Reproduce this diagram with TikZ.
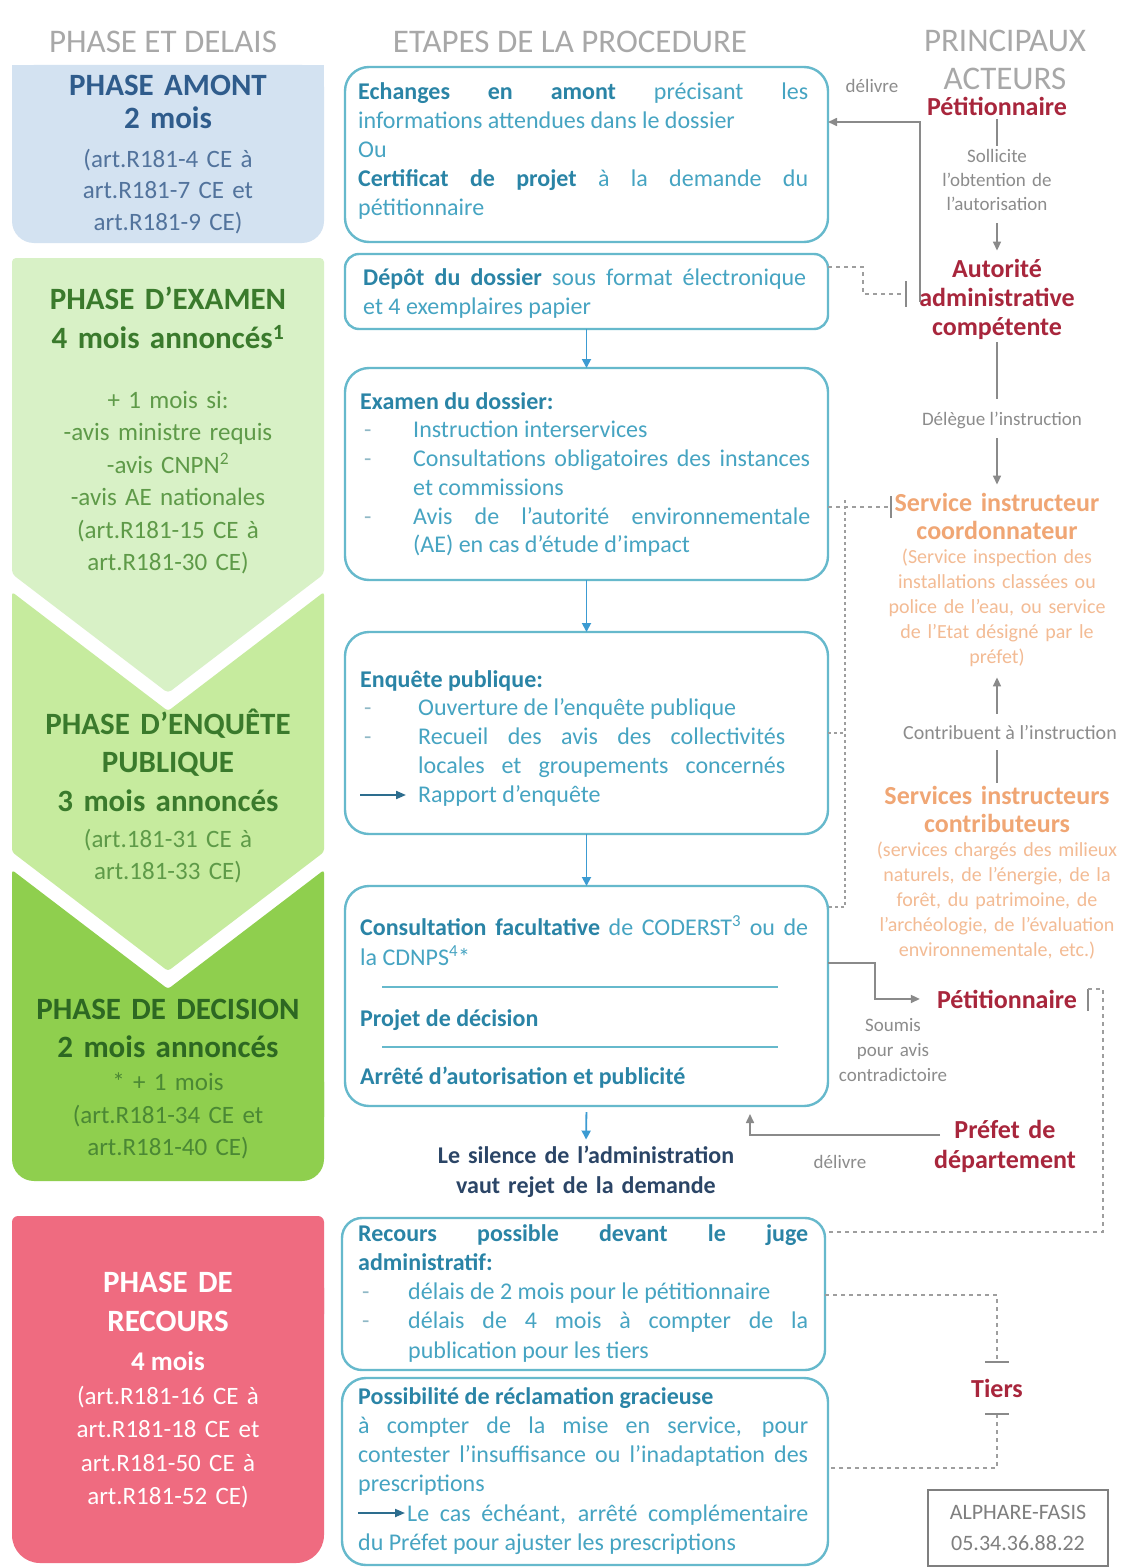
\documentclass[tikz,border=0pt]{standalone}
\usepackage{fontspec}
\setmainfont{Carlito}
\usetikzlibrary{arrows.meta,calc}
\definecolor{hdr}{HTML}{A8A8A8}
\definecolor{amfill}{HTML}{D3E2F1}
\definecolor{amtitle}{HTML}{2F5C8C}
\definecolor{amsub}{HTML}{52739C}
\definecolor{exfill}{HTML}{D8F1C6}
\definecolor{enfill}{HTML}{C6EB9E}
\definecolor{defill}{HTML}{8FCF4E}
\definecolor{refill}{HTML}{EF6B80}
\definecolor{gtitle}{HTML}{3A7A2C}
\definecolor{gsub}{HTML}{5E9A48}
\definecolor{dtitle}{HTML}{2D6822}
\definecolor{dsub}{HTML}{4B8834}
\definecolor{boxline}{HTML}{66B9CC}
\definecolor{boxbold}{HTML}{2A84A6}
\definecolor{boxtext}{HTML}{46A4C2}
\definecolor{boxdash}{HTML}{8FB8C6}
\definecolor{barrowc}{HTML}{3C9BD2}
\definecolor{inarrowc}{HTML}{2D6D8E}
\definecolor{silc}{HTML}{2B4566}
\definecolor{redc}{HTML}{A8263C}
\definecolor{gtext}{HTML}{8C8C8C}
\definecolor{glinec}{HTML}{8A8A8A}
\definecolor{dashc}{HTML}{9E9E9E}
\definecolor{orb}{HTML}{F0A674}
\definecolor{ors}{HTML}{F3BB94}
\definecolor{alphc}{HTML}{7F7F7F}
\newcommand\Bx[1]{{\bfseries\color{boxbold}#1}}
\newcommand\Sk{\spaceskip=0pt\relax\xspaceskip=0pt\relax}
\newcommand\Jl[1]{\noindent\hbox to\hsize{\Sk#1}\par}
\newcommand\Nl[1]{\noindent\hbox{\Sk#1}\par}
\newcommand\Dsh[1]{\hbox to #1{\hspace{4pt}{\color{boxdash}-}\hfil}}
\newcommand\Il[2]{\noindent\hbox{\Sk\Dsh{#1}#2}\par}
\newcommand\IJl[2]{\noindent\hbox to\hsize{\Sk\Dsh{#1}#2}\par}
\begin{document}
\begin{tikzpicture}[x=1pt,y=-1pt,
  stepbox/.style={draw=boxline,line width=2.4pt,rounded corners=24pt,inner sep=0pt,outer sep=0pt,anchor=north west},
  boxtxt/.style={anchor=base west,inner sep=0pt,text width=#1,align=left,text=boxtext,font=\fontsize{24}{29}\selectfont},
  boxtxt/.default=450pt,
  phtitle/.style={anchor=base,inner sep=0pt,text width=300pt,align=center,font=\bfseries\fontsize{31}{#1}\selectfont},
  phsub/.style={anchor=base,inner sep=0pt,text width=300pt,align=center,font=\fontsize{25}{#1}\selectfont},
  hdrtxt/.style={anchor=base,inner sep=0pt,text=hdr,font=\fontsize{33}{38}\selectfont},
  rbold/.style={anchor=base,inner sep=3pt,text=redc,font=\bfseries\fontsize{26}{29}\selectfont},
  gsmall/.style={anchor=base,inner sep=3pt,text=gtext,font=\fontsize{19}{24}\selectfont},
  orbold/.style={anchor=base,inner sep=3pt,text=orb,font=\bfseries\fontsize{26}{28}\selectfont},
  orsub/.style={anchor=base,inner sep=3pt,text=ors,font=\fontsize{20}{25}\selectfont},
  garrow/.style={draw=glinec,line width=1.6pt,-{Triangle[length=9pt,width=8pt]}},
  gline/.style={draw=glinec,line width=1.6pt},
  dline/.style={draw=dashc,line width=1.3pt,dash pattern=on 4pt off 4pt},
  barrow/.style={draw=barrowc,line width=1.8pt,-{Triangle[length=9pt,width=9pt]}},
  inarrow/.style={draw=inarrowc,line width=2pt,-{Triangle[length=10pt,width=8pt]}},
  sepline/.style={draw=boxline,line width=1.5pt}
]
\fill[white] (0,0) rectangle (1128,1568);
\useasboundingbox (0,0) rectangle (1128,1568);

% ---------- left column shapes ----------
\fill[amfill] (12,65) rectangle (324,150);
\fill[amfill,rounded corners=22pt] (12,65) rectangle (324,243);
\fill[exfill,rounded corners=4pt] (12,258) -- (324,258) -- (324,574) -- (168,693) -- (12,574) -- cycle;
\fill[enfill,rounded corners=3pt] (12,592) -- (168,711) -- (324,592) -- (324,852) -- (168,971) -- (12,852) -- cycle;
\fill[defill,rounded corners=3pt] (12,870) -- (168,989) -- (324,870) -- (324,1120) -- (12,1120) -- cycle;
\fill[defill,rounded corners=22pt] (12,1060) rectangle (324,1181);
\fill[refill,rounded corners=6pt] (12,1216) rectangle (324,1320);
\fill[refill,rounded corners=28pt] (12,1260) rectangle (324,1563);

% ---------- headers ----------
\node[hdrtxt] (h1) at (163,53) {PHASE ET DELAIS};
\node[hdrtxt] (h2) at (570,53) {ETAPES DE LA PROCEDURE};
\node[hdrtxt,text width=220pt,align=center] (h3) at (1005,52) {PRINCIPAUX\\ACTEURS};

% ---------- left column texts ----------
\node[phtitle=33,text=amtitle] (amT) at (168,95.3) {PHASE AMONT\\2 mois};
\node[phsub=31.5,text=amsub] (amS) at (168,167.5) {(art.R181-4 CE à\\art.R181-7 CE et\\art.R181-9 CE)};
\node[phtitle=39,text=gtitle] (exT) at (168,309.3) {PHASE D’EXAMEN\\4 mois annoncés\textsuperscript{1}};
\node[phsub=32.4,text=gsub] (exS) at (168,408.5) {+ 1 mois si:\\-avis ministre requis\\-avis CNPN\textsuperscript{2}\\-avis AE nationales\\(art.R181-15 CE à\\art.R181-30 CE)};
\node[phtitle=38.5,text=gtitle] (enT) at (168,734.3) {PHASE D’ENQUÊTE\\PUBLIQUE\\3 mois annoncés};
\node[phsub=32,text=gsub] (enS) at (168,847.5) {(art.181-31 CE à\\art.181-33 CE)};
\node[phtitle=38,text=dtitle] (deT) at (168,1019.3) {PHASE DE DECISION\\2 mois annoncés};
\node[phsub=32.5,text=dsub] (deS) at (168,1090.5) {* + 1 mois\\(art.R181-34 CE et\\art.R181-40 CE)};
\node[phtitle=39.5,text=white] (reT) at (168,1292.3) {PHASE DE\\RECOURS};
\node[anchor=base,inner sep=0pt,text=white,font=\bfseries\fontsize{27}{30}\selectfont] (reM) at (168,1370) {4 mois};
\node[phsub=33.3,text=white] (reS) at (168,1404.5) {(art.R181-16 CE à\\art.R181-18 CE et\\art.R181-50 CE à\\art.R181-52 CE)};

% ---------- procedure boxes ----------
\node[stepbox,minimum width=483pt,minimum height=175pt] (b1) at (345,67) {};
\node[stepbox,rounded corners=14pt,minimum width=483pt,minimum height=75pt] (b2) at (345,254) {};
\node[stepbox,minimum width=483pt,minimum height=212pt] (b3) at (345,368) {};
\node[stepbox,minimum width=483pt,minimum height=202pt] (b4) at (345,632) {};
\node[stepbox,minimum width=483pt,minimum height=220pt] (b5) at (345,886) {};
\node[stepbox,rounded corners=20pt,minimum width=483pt,minimum height=152pt] (b7) at (342,1218) {};
\node[stepbox,minimum width=486pt,minimum height=187pt] (b8) at (342,1378) {};

\node[boxtxt=450pt] (t1) at (358,99.2) {%
\Jl{\Bx{Echanges en amont} précisant les}%
\Nl{informations attendues dans le dossier}%
\Nl{Ou}%
\Jl{\Bx{Certificat de projet} à la demande du}%
\Nl{pétitionnaire}};
\node[boxtxt=443pt] (t2) at (363,285.2) {%
\Jl{\Bx{Dépôt du dossier} sous format électronique}%
\Nl{et 4 exemplaires papier}};
\node[boxtxt=450pt,font=\fontsize{24}{28.7}\selectfont] (t3) at (360,409.2) {%
\Nl{\Bx{Examen du dossier:}}%
\Il{53pt}{Instruction interservices}%
\IJl{53pt}{Consultations obligatoires des instances}%
\Nl{\hspace{53pt}et commissions}%
\IJl{53pt}{Avis de l’autorité environnementale}%
\Nl{\hspace{53pt}(AE) en cas d’étude d’impact}};
\node[boxtxt=425pt,font=\fontsize{24}{28.7}\selectfont] (t4) at (360,687.2) {%
\Nl{\Bx{Enquête publique:}}%
\Il{58pt}{Ouverture de l’enquête publique}%
\IJl{58pt}{Recueil des avis des collectivités}%
\Jl{\hspace{58pt}locales et groupements concernés}%
\Nl{\hspace{58pt}Rapport d’enquête}};
\node[boxtxt=448pt,font=\fontsize{24}{30}\selectfont] (t5a) at (360,935.2) {%
\Jl{\Bx{Consultation facultative} de CODERST\textsuperscript{3} ou de}%
\Nl{la CDNPS\textsuperscript{4}*}};
\node[boxtxt=448pt] (t5b) at (360,1026.2) {\Nl{\Bx{Projet de décision}}};
\node[boxtxt=448pt] (t5c) at (360,1084.2) {\Nl{\Bx{Arrêté d’autorisation et publicité}}};
\node[anchor=base,inner sep=0pt,text width=420pt,align=center,text=silc,font=\bfseries\fontsize{24}{30}\selectfont] (sil) at (586,1163.2) {Le silence de l’administration\\vaut rejet de la demande};
\node[boxtxt=450pt,font=\fontsize{24}{29.2}\selectfont] (t7) at (358,1241.2) {%
\Jl{\Bx{Recours possible devant le juge}}%
\Nl{\Bx{administratif:}}%
\Il{50pt}{délais de 2 mois pour le pétitionnaire}%
\IJl{50pt}{délais de 4 mois à compter de la}%
\Nl{\hspace{50pt}publication pour les tiers}};
\node[boxtxt=450pt,font=\fontsize{24}{29.2}\selectfont] (t8) at (358,1404.2) {%
\Nl{\Bx{Possibilité de réclamation gracieuse}}%
\Jl{à compter de la mise en service, pour}%
\Jl{contester l’insuffisance ou l’inadaptation des}%
\Nl{prescriptions}%
\Jl{\hspace{49pt}Le cas échéant, arrêté complémentaire}%
\Nl{du Préfet pour ajuster les prescriptions}};

\draw[sepline] (382,987) -- (778,987);
\draw[sepline] (382,1047) -- (778,1047);
\coordinate (ra1) at (360,795); \coordinate (ra2) at (406,795);
\draw[inarrow] (ra1) -- (ra2);
\coordinate (rb1) at (358,1513); \coordinate (rb2) at (405,1513);
\draw[inarrow] (rb1) -- (rb2);

% ---------- actors ----------
\node[rbold] (pet1) at (997,116) {Pétitionnaire};
\node[gsmall,text width=170pt,align=center] (sol) at (997,162.7) {Sollicite\\l’obtention de\\l’autorisation};
\node[rbold,text width=200pt,align=center] (aut) at (997,277) {Autorité\\administrative\\compétente};
\node[gsmall] (dele) at (1002,425.7) {Délègue l’instruction};
\node[orbold,text width=240pt,align=center] (serv) at (997,511) {Service instructeur\\coordonnateur};
\node[orsub,text width=250pt,align=center] (servsub) at (997,563) {(Service inspection des\\installations classées ou\\police de l’eau, ou service\\de l’Etat désigné par le\\préfet)};
\node[gsmall,font=\fontsize{20}{24}\selectfont] (contrib) at (1010,739) {Contribuent à l’instruction};
\node[orbold,text width=250pt,align=center] (servs2) at (997,804) {Services instructeurs\\contributeurs};
\node[orsub,text width=260pt,align=center] (servs2sub) at (997,856) {(services chargés des milieux\\naturels, de l’énergie, de la\\forêt, du patrimoine, de\\l’archéologie, de l’évaluation\\environnementale, etc.)};
\node[rbold] (pet2) at (1007,1008) {Pétitionnaire};
\node[gsmall,text width=140pt,align=center,font=\fontsize{19}{25}\selectfont] (soum) at (893,1031) {Soumis\\pour avis\\contradictoire};
\node[rbold,text width=200pt,align=center,font=\bfseries\fontsize{26}{30}\selectfont] (pref) at (1005,1138) {Préfet de\\département};
\node[gsmall] (dlv2) at (840,1168) {délivre};
\node[gsmall] (dlv1) at (872,93) {délivre};
\node[rbold] (tiers) at (997,1397) {Tiers};
\node[draw=alphc,line width=1.3pt,text=alphc,minimum width=180pt,minimum height=76pt,inner sep=0pt,align=center,font=\fontsize{22}{31}\selectfont] (alph) at (1018,1528) {ALPHARE-FASIS\\05.34.36.88.22};

% ---------- blue flow arrows ----------
\draw[barrow] (b2.south) -- (b3.north);
\draw[barrow] (b3.south) -- (b4.north);
\draw[barrow] (b4.south) -- (b5.north);
\draw[barrow,shorten <=6pt,shorten >=6pt] (b5.south) -- (sil.north);

% ---------- grey connectors ----------
\coordinate (dlA) at (920,302);
\draw[garrow] (dlA) |- (b1.east |- 0,122);
\draw[gline] (pet1.south) -- (sol.north);
\draw[garrow,shorten <=9pt,shorten >=5pt] (sol.south) -- (aut.north);
\draw[gline,shorten >=10pt] (aut.south) -- (aut.south |- dele.north);
\draw[garrow,shorten <=6pt,shorten >=5pt] (aut.south |- dele.south) -- (serv.north);
\draw[garrow,shorten <=8pt,shorten >=8pt] (servsub.south |- contrib.north) -- (servsub.south);
\draw[gline,shorten <=8pt] (servs2.north |- contrib.south) -- (servs2.north);
\coordinate (k1) at (875,963);
\draw[garrow,shorten >=14pt] (b5.east |- k1) -- (k1) |- (pet2.west);
\coordinate (pfA) at (940,1135); \coordinate (pfB) at (750,1135);
\draw[garrow,shorten >=8pt] (pfA) -- (pfB) -- (pfB |- b5.south);

% ---------- dashed links ----------
\coordinate (dpK) at (863,294); \coordinate (tkA) at (906,294);
\draw[dline] (b2.east |- 0,267) -| (dpK) -- (tkA);
\draw[gline] ([yshift=13pt]tkA) -- ([yshift=-13pt]tkA);
\coordinate (exTick) at (891,507);
\draw[dline] (b3.east |- exTick) -- (exTick);
\draw[gline] ([yshift=11pt]exTick) -- ([yshift=-11pt]exTick);
\coordinate (vA) at (845,500); \coordinate (vB) at (845,907);
\draw[dline,dash pattern=on 3pt off 3pt] (vA) -- (vB) -- (b5.east |- vB);
\draw[dline,dash pattern=on 3pt off 3pt] (b4.east |- 0,733) -- (vA |- 0,733);
\coordinate (tkP) at (1088,989);
\draw[gline] (tkP) -- ++(0,22);
\coordinate (cR) at (1103,1232);
\draw[dline] (tkP) -| (cR) -- (b7.east |- cR);
\coordinate (tT) at (997,1362); \coordinate (tB) at (997,1414);
\draw[dline] (b7.east |- 0,1295) -| (tT);
\draw[gline] ([xshift=-12pt]tT) -- ([xshift=12pt]tT);
\draw[dline] (tB) |- (b8.east |- 0,1468);
\draw[gline] ([xshift=-12pt]tB) -- ([xshift=12pt]tB);
\end{tikzpicture}
\end{document}
